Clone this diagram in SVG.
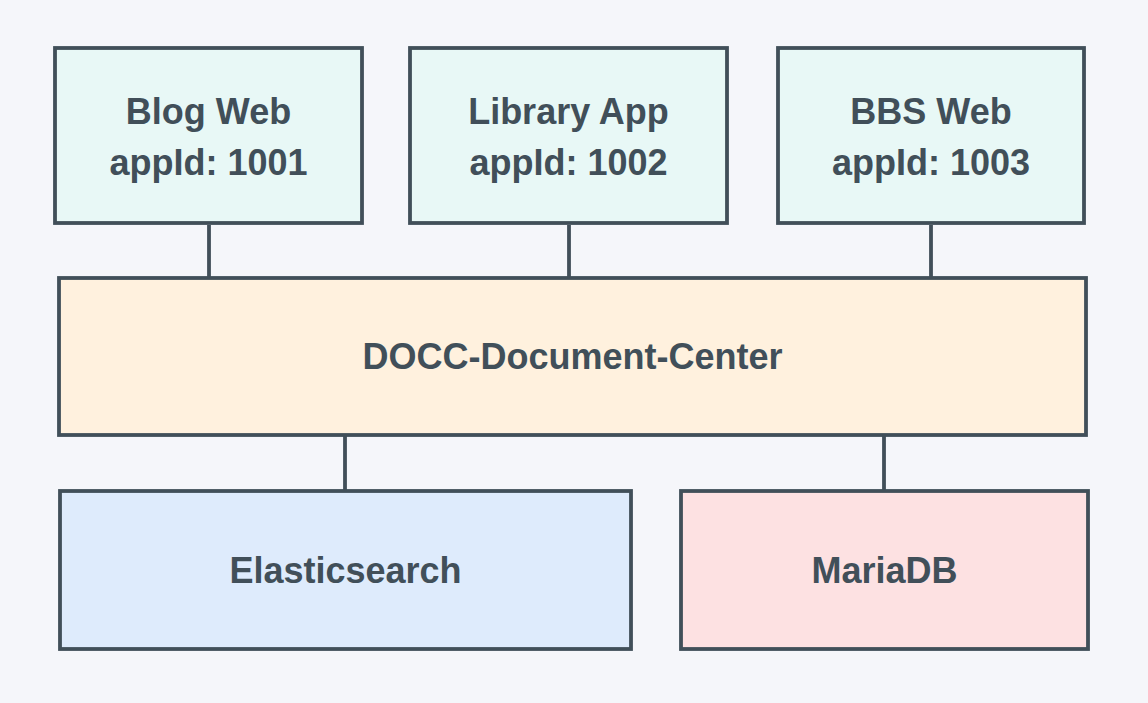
<svg xmlns="http://www.w3.org/2000/svg" width="1148" height="703" viewBox="0 0 1148 703">
<style>
.box{stroke:#414f59;stroke-width:3.8}
.app{fill:#e8f8f6}
.core{fill:#fff1de}
.es{fill:#deebfc}
.db{fill:#fde1e2}
.lbl{font-family:"Liberation Sans",Arial,sans-serif;font-weight:bold;font-size:36px;fill:#414f59;text-anchor:middle}
.conn line{stroke:#414f59;stroke-width:3.8}
</style>
<rect width="1148" height="703" fill="#f5f6fa"/>
<g id="connectors" class="conn">
<line x1="209" y1="225" x2="209" y2="277"/>
<line x1="569" y1="225" x2="569" y2="277"/>
<line x1="931" y1="225" x2="931" y2="277"/>
<line x1="345" y1="436" x2="345" y2="490"/>
<line x1="884" y1="436" x2="884" y2="490"/>
</g>
<g id="blog">
<rect class="box app" x="55" y="48" width="307" height="175"/>
<text class="lbl" x="208.5" y="124">Blog Web</text>
<text class="lbl" x="208.5" y="175">appId: 1001</text>
</g>
<g id="library">
<rect class="box app" x="410" y="48" width="317" height="175"/>
<text class="lbl" x="568.5" y="124">Library App</text>
<text class="lbl" x="568.5" y="175">appId: 1002</text>
</g>
<g id="bbs">
<rect class="box app" x="778" y="48" width="306" height="175"/>
<text class="lbl" x="931" y="124">BBS Web</text>
<text class="lbl" x="931" y="175">appId: 1003</text>
</g>
<g id="docc">
<rect class="box core" x="59" y="278" width="1027" height="157"/>
<text class="lbl" x="572.5" y="369">DOCC-Document-Center</text>
</g>
<g id="elasticsearch">
<rect class="box es" x="60" y="491" width="571" height="158"/>
<text class="lbl" x="345.5" y="583">Elasticsearch</text>
</g>
<g id="mariadb">
<rect class="box db" x="681" y="491" width="407" height="158"/>
<text class="lbl" x="884.5" y="583">MariaDB</text>
</g>
</svg>
